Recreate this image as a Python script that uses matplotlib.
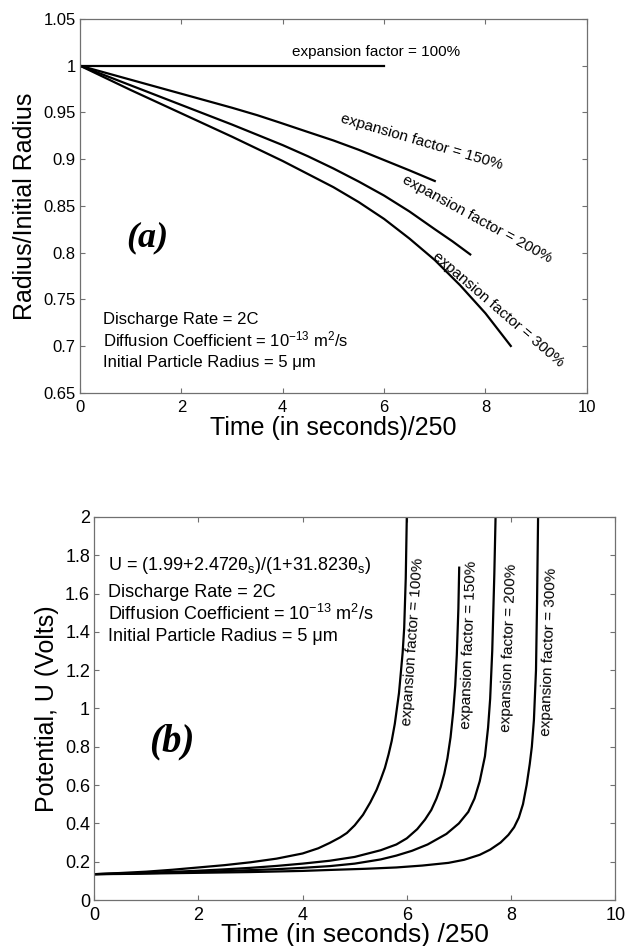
import matplotlib
matplotlib.use("Agg")
import matplotlib.pyplot as plt
from matplotlib.ticker import FormatStrFormatter

plt.rcParams['font.family'] = ['Liberation Sans', 'DejaVu Sans']
plt.rcParams['mathtext.default'] = 'regular'

# Panel (a): radius / initial radius
t_100a = [0, 6]
r_100 = [1.0, 1.0]
t_150a = [0, 0.5, 1, 1.5, 2, 2.5, 3, 3.5, 3.95, 4.5, 5, 5.5, 6, 6.5, 7.0]
r_150 = [1.0, 0.9925, 0.985, 0.9775, 0.970, 0.9625, 0.955, 0.947, 0.939, 0.929, 0.920, 0.910, 0.899, 0.888, 0.8766]
t_200a = [0, 0.5, 1, 1.5, 2, 2.5, 3, 3.5, 4, 4.5, 5, 5.5, 6, 6.5, 7, 7.35, 7.7]
r_200 = [1.0, 0.9895, 0.979, 0.9685, 0.958, 0.9475, 0.937, 0.926, 0.915, 0.903, 0.890, 0.876, 0.861, 0.844, 0.825, 0.812, 0.798]
t_300a = [0, 0.5, 1, 1.5, 2, 2.5, 3, 3.5, 4, 4.5, 5, 5.5, 6, 6.5, 7, 7.5, 8, 8.5]
r_300 = [1.0, 0.987, 0.974, 0.9615, 0.949, 0.9365, 0.924, 0.911, 0.898, 0.884, 0.870, 0.854, 0.836, 0.815, 0.792, 0.765, 0.735, 0.700]

# Panel (b): potential U
t_100b = [0, 0.5, 1, 1.5, 2, 2.5, 3, 3.5, 4, 4.3, 4.52, 4.72, 4.85, 5.0, 5.16, 5.3, 5.42,
          5.5, 5.58, 5.65, 5.71, 5.77, 5.81, 5.85, 5.88, 5.92, 5.95, 5.98, 6.0]
u_100 = [0.135, 0.141, 0.148, 0.158, 0.17, 0.182, 0.197, 0.216, 0.243, 0.27, 0.298, 0.327, 0.35, 0.39, 0.445, 0.51, 0.575,
         0.63, 0.69, 0.76, 0.83, 0.92, 1.0, 1.08, 1.17, 1.29, 1.42, 1.68, 2.0]
t_150b = [0, 0.5, 1, 1.5, 2, 2.5, 3, 3.5, 4, 4.52, 5.0, 5.5, 5.8, 6.0, 6.2, 6.35, 6.47,
          6.57, 6.65, 6.72, 6.78, 6.84, 6.89, 6.93, 6.96, 6.99, 7.006]
u_150 = [0.135, 0.138, 0.142, 0.147, 0.153, 0.16, 0.168, 0.178, 0.19, 0.205, 0.225, 0.26, 0.29, 0.322, 0.37, 0.42, 0.47,
         0.53, 0.59, 0.66, 0.74, 0.85, 0.98, 1.12, 1.28, 1.52, 1.735]
t_200b = [0, 0.5, 1, 1.5, 2, 2.5, 3, 3.5, 4, 4.52, 5.0, 5.5, 5.8, 6.1, 6.4, 6.76, 7.0,
          7.18, 7.3, 7.4, 7.5, 7.56, 7.6, 7.64, 7.68, 7.704]
u_200 = [0.135, 0.137, 0.14, 0.143, 0.147, 0.151, 0.156, 0.161, 0.168, 0.177, 0.19, 0.212, 0.232, 0.257, 0.29, 0.345, 0.40,
         0.46, 0.53, 0.62, 0.75, 0.9, 1.05, 1.3, 1.7, 2.0]
t_300b = [0, 0.5, 1, 1.5, 2, 2.5, 3, 3.5, 4, 4.52, 5.2, 5.8, 6.3, 6.8, 7.1, 7.4, 7.6,
          7.8, 7.95, 8.06, 8.15, 8.23, 8.30, 8.36, 8.40, 8.44, 8.48, 8.50, 8.52]
u_300 = [0.135, 0.136, 0.138, 0.14, 0.142, 0.144, 0.146, 0.149, 0.152, 0.157, 0.163, 0.17, 0.18, 0.194, 0.21, 0.236, 0.263,
         0.30, 0.34, 0.38, 0.43, 0.5, 0.6, 0.71, 0.80, 0.94, 1.2, 1.55, 2.0]

labels = ["expansion factor = 100%", "expansion factor = 150%",
          "expansion factor = 200%", "expansion factor = 300%"]

frame_col = "#707070"
lw = 1.6

fig = plt.figure(figsize=(6.28, 9.46), dpi=100)
ax1 = fig.add_axes([0.1274, 0.5849, 0.807, 0.395])
ax2 = fig.add_axes([0.150, 0.0486, 0.8296, 0.405])


def style_axes(ax, fs):
    for s in ax.spines.values():
        s.set_color(frame_col)
        s.set_linewidth(0.9)
    ax.tick_params(direction="in", length=3.6, width=0.8, color=frame_col,
                   labelcolor="black", labelsize=fs, top=True, right=True)
    ax.tick_params(axis="x", pad=5)
    ax.tick_params(axis="y", pad=3)
    ax.yaxis.set_major_formatter(FormatStrFormatter("%g"))
    ax.xaxis.set_major_formatter(FormatStrFormatter("%g"))


# ---- (a) ----
ax1.plot(t_100a, r_100, color="black", lw=lw)
ax1.plot(t_150a, r_150, color="black", lw=lw)
ax1.plot(t_200a, r_200, color="black", lw=lw)
ax1.plot(t_300a, r_300, color="black", lw=lw)
ax1.set_xlim(0, 10)
ax1.set_ylim(0.65, 1.05)
ax1.set_xticks([0, 2, 4, 6, 8, 10])
ax1.set_yticks([0.65, 0.7, 0.75, 0.8, 0.85, 0.9, 0.95, 1.0, 1.05])
style_axes(ax1, 12)

ax1.text(5.84, 1.0147, labels[0], fontsize=11, ha="center", va="center")
ax1.text(6.74, 0.9186, labels[1], fontsize=11, ha="center", va="center", rotation=-16.3, rotation_mode="anchor")
ax1.text(7.83, 0.8357, labels[2], fontsize=11, ha="center", va="center", rotation=-28.6, rotation_mode="anchor")
ax1.text(8.26, 0.7393, labels[3], fontsize=11, ha="center", va="center", rotation=-40.7, rotation_mode="anchor")

ax1.text(1.32, 0.8155, "(a)", fontsize=26, family="Liberation Serif",
         weight="bold", style="italic", ha="center", va="center")

ax1.text(0.46, 0.7234, "Discharge Rate = 2C", fontsize=12, va="baseline")
ax1.text(0.46, 0.6992, "Diffusion Coefficient = 10$^{-13}$ m$^2$/s", fontsize=12, va="baseline")
ax1.text(0.46, 0.6771, "Initial Particle Radius = 5 \u03bcm", fontsize=12, va="baseline")

ax1.set_xlabel("Time (in seconds)/250", fontsize=18)
ax1.set_ylabel("Radius/Initial Radius", fontsize=18)
ax1.xaxis.set_label_coords(0.5, -0.0953)
ax1.xaxis.label.set_va("center")
ax1.yaxis.set_label_coords(-0.1085, 0.5)
ax1.yaxis.label.set_va("center")

# ---- (b) ----
ax2.plot(t_100b, u_100, color="black", lw=lw)
ax2.plot(t_150b, u_150, color="black", lw=lw)
ax2.plot(t_200b, u_200, color="black", lw=lw)
ax2.plot(t_300b, u_300, color="black", lw=lw)
ax2.set_xlim(0, 10)
ax2.set_ylim(0, 2)
ax2.set_xticks([0, 2, 4, 6, 8, 10])
ax2.set_yticks([0, 0.2, 0.4, 0.6, 0.8, 1.0, 1.2, 1.4, 1.6, 1.8, 2.0])
style_axes(ax2, 13)

# labels follow the curves, tilted slightly off vertical
ax2.text(6.11, 1.350, labels[0], fontsize=11, ha="center", va="center", rotation=86, rotation_mode="anchor")
ax2.text(7.20, 1.330, labels[1], fontsize=11, ha="center", va="center", rotation=88, rotation_mode="anchor")
ax2.text(7.97, 1.316, labels[2], fontsize=11, ha="center", va="center", rotation=88, rotation_mode="anchor")
ax2.text(8.72, 1.296, labels[3], fontsize=11, ha="center", va="center", rotation=88, rotation_mode="anchor")

ax2.text(1.485, 0.826, "(b)", fontsize=28, family="Liberation Serif",
         weight="bold", style="italic", ha="center", va="center")

ax2.text(0.27, 1.722, "U = (1.99+2.472\u03b8$_s$)/(1+31.823\u03b8$_s$)", fontsize=13, va="baseline")
ax2.text(0.27, 1.583, "Discharge Rate = 2C", fontsize=13, va="baseline")
ax2.text(0.27, 1.461, "Diffusion Coefficient = 10$^{-13}$ m$^2$/s", fontsize=13, va="baseline")
ax2.text(0.27, 1.353, "Initial Particle Radius = 5 \u03bcm", fontsize=13, va="baseline")

ax2.set_xlabel("Time (in seconds) /250", fontsize=19)
ax2.set_ylabel("Potential, U (Volts)", fontsize=18)
ax2.xaxis.set_label_coords(0.5, -0.0913)
ax2.xaxis.label.set_va("center")
ax2.yaxis.set_label_coords(-0.0914, 0.5)
ax2.yaxis.label.set_va("center")

fig.savefig("out.png", dpi=100)
